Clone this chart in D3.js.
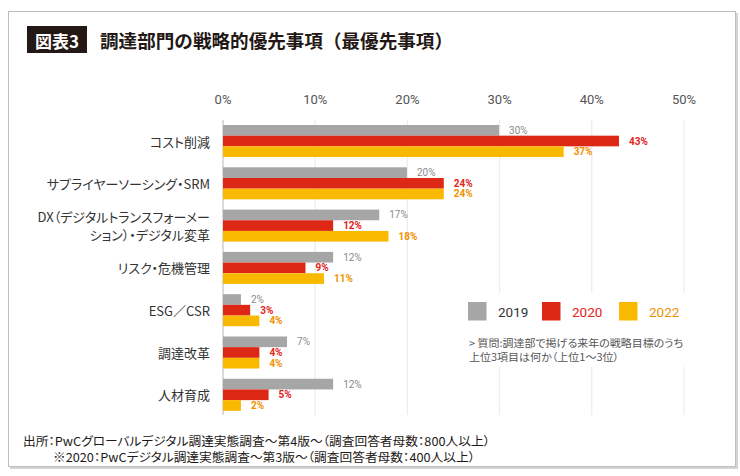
<!DOCTYPE html>
<html><head><meta charset="utf-8">
<script src="https://cdn.jsdelivr.net/npm/d3@7/dist/d3.min.js"></script>
<style>
html,body{margin:0;padding:0;background:#fff;}
svg{display:block;font-family:"Noto Sans CJK JP","Noto Sans",sans-serif;}
.palt{font-feature-settings:"palt" 1;}
</style></head>
<body>
<svg id="c" width="740" height="476"></svg>
<script>
const categories = ["コスト削減","サプライヤーソーシング・SRM","DX（デジタルトランスフォーメーション）・デジタル変革","リスク・危機管理","ESG／CSR","調達改革","人材育成"];
const categoryLines = [["コスト削減"],["サプライヤーソーシング・SRM"],["DX（デジタルトランスフォーメー","ション）・デジタル変革"],["リスク・危機管理"],["ESG／CSR"],["調達改革"],["人材育成"]];
const seriesNames = ["2019","2020","2022"];
const values2019 = [30,20,17,12,2,7,12];
const values2020 = [43,24,12,9,3,4,5];
const values2022 = [37,24,18,11,4,4,2];
const tickValues = [0,10,20,30,40,50];
const title = "調達部門の戦略的優先事項（最優先事項）";
const badge = "図表3";
const noteLines = ["> 質問:調達部で掲げる来年の戦略目標のうち","上位3項目は何か（上位1～3位）"];
const sourceLines = ["出所：PwCグローバルデジタル調達実態調査～第4版～（調査回答者母数：800人以上）","※2020：PwCデジタル調達実態調査～第3版～（調査回答者母数：400人以上）"];

const seriesValues = [values2019, values2020, values2022];
const barColors = ["#a6a6a6","#de2816","#f8b900"];
const labelColors = ["#8a8a8a","#e2231a","#ee9200"];
const legendTextColors = ["#333333","#e2231a","#ee9200"];

const svg = d3.select("#c");

// frame with shadow
svg.append("rect").attr("x",10).attr("y",13).attr("width",728).attr("height",456).attr("fill","#d4d4d4");
svg.append("rect").attr("x",8.5).attr("y",11.5).attr("width",727).attr("height",455).attr("fill","#fff").attr("stroke","#bdbdbd").attr("stroke-width",1);

// title
svg.append("rect").attr("x",27).attr("y",26).attr("width",60).attr("height",27).attr("fill","#231815");
svg.append("text").attr("x",57).attr("y",40).attr("text-anchor","middle").attr("dominant-baseline","central")
  .attr("fill","#fff").attr("font-size",17).attr("font-weight","bold").text(badge);
svg.append("text").attr("x",100).attr("y",40).attr("dominant-baseline","central")
  .attr("fill","#231815").attr("font-size",18.5).attr("font-weight","bold")
  .attr("textLength",353).attr("lengthAdjust","spacingAndGlyphs").text(title);

const x = d3.scaleLinear().domain([0,50]).range([222.5,683.5]);
const y = d3.scaleBand().domain(categories).range([125,410.8]).paddingInner(0.243).paddingOuter(0).align(0);
const ySub = d3.scaleBand().domain(seriesNames).range([0,y.bandwidth()]);

// grid
const axisG = svg.append("g").attr("transform","translate(0,120)");
axisG.call(d3.axisTop(x).tickValues(tickValues).tickSize(-295).tickFormat(d=>d+"%"));
axisG.select(".domain").remove();
axisG.selectAll(".tick line").attr("stroke",d=>d===0?"#cfcfcf":"#ececec").attr("stroke-width",d=>d===0?1.5:1.2);
axisG.selectAll(".tick text").attr("y",-16).attr("font-size",13).attr("fill","#555")
  .attr("font-family","Roboto,'Liberation Sans',sans-serif");

// bars
seriesValues.forEach((vals,si)=>{
  const g = svg.append("g");
  g.selectAll("rect").data(vals).join("rect")
    .attr("x",x(0)+0.5)
    .attr("y",(d,i)=>y(categories[i])+ySub(seriesNames[si]))
    .attr("width",d=>x(d)-x(0)-0.5)
    .attr("height",ySub.bandwidth())
    .attr("fill",barColors[si]);
  g.selectAll("text").data(vals).join("text")
    .attr("x",d=>x(d)+10)
    .attr("y",(d,i)=>y(categories[i])+ySub(seriesNames[si])+ySub.bandwidth()/2)
    .attr("dominant-baseline","central")
    .attr("font-size",10)
    .attr("font-weight",si===0?"normal":"bold")
    .attr("font-family","Roboto,'Liberation Sans',sans-serif")
    .attr("fill",labelColors[si])
    .text(d=>d+"%");
});

// category labels
categories.forEach((c,i)=>{
  const lines = categoryLines[i];
  const cy = y(c)+y.bandwidth()/2;
  const t = svg.append("text").attr("class","palt").attr("text-anchor","end").attr("font-size",13).attr("fill","#333");
  lines.forEach((ln,li)=>{
    t.append("tspan").attr("x",210).attr("y",cy+(li-(lines.length-1)/2)*18.5)
      .attr("dominant-baseline","central").text(ln);
  });
});

// legend with white background
svg.append("rect").attr("x",463).attr("y",293).attr("width",228).attr("height",74).attr("fill","#fff");
const legendX = [468,542,619];
seriesNames.forEach((s,i)=>{
  svg.append("rect").attr("x",legendX[i]).attr("y",302).attr("width",18.5).attr("height",18.5).attr("fill",barColors[i]);
  svg.append("text").attr("x",legendX[i]+30).attr("y",311.5).attr("dominant-baseline","central")
    .attr("font-size",13.5).attr("font-family","Roboto,'Liberation Sans',sans-serif")
    .attr("fill",legendTextColors[i]).text(s);
});
const noteWidths = [214,150];
noteLines.forEach((ln,i)=>{
  svg.append("text").attr("class","palt").attr("x",469).attr("y",342+i*14).attr("dominant-baseline","central")
    .attr("font-size",10.3).attr("fill","#555")
    .attr("textLength",noteWidths[i]).attr("lengthAdjust","spacingAndGlyphs").text(ln);
});

// source
const srcX = [23,53];
const srcWidths = [467,422];
sourceLines.forEach((ln,i)=>{
  svg.append("text").attr("class","palt").attr("x",srcX[i]).attr("y",440+i*16.7).attr("dominant-baseline","central")
    .attr("font-size",12).attr("fill","#231815")
    .attr("textLength",srcWidths[i]).attr("lengthAdjust","spacingAndGlyphs").text(ln);
});
</script>
</body></html>
